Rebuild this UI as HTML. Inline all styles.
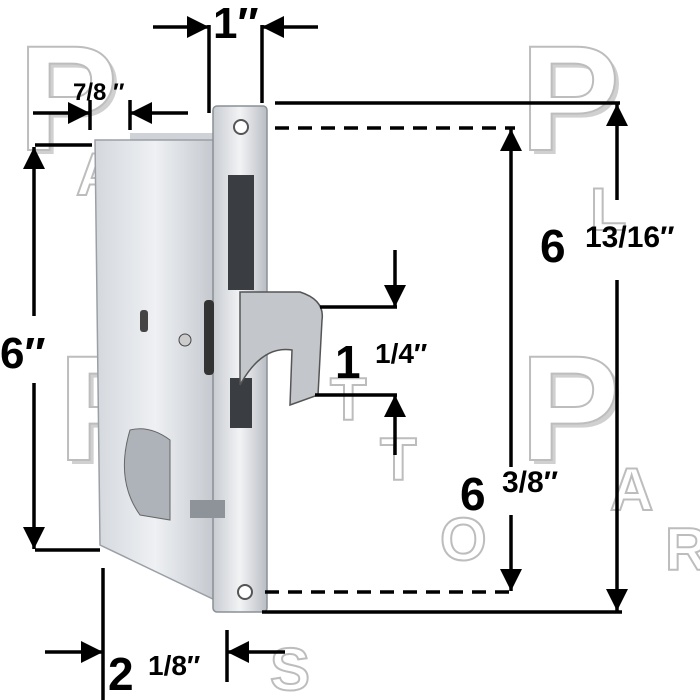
<!DOCTYPE html>
<html><head><meta charset="utf-8"><style>
html,body{margin:0;padding:0;background:#fff;width:700px;height:700px;overflow:hidden}
svg{display:block}
text{font-family:"Liberation Sans",sans-serif;font-weight:bold;}
.sh{fill:#d0d0d0;font-family:"Liberation Sans",sans-serif;font-weight:bold}
.wm{fill:#fff;stroke:#bdbdbd;stroke-width:2;font-family:"Liberation Sans",sans-serif;font-weight:bold}
</style></head><body>
<svg width="700" height="700" viewBox="0 0 700 700" xmlns="http://www.w3.org/2000/svg">
<defs>
<linearGradient id="met" x1="0" x2="1" y1="0" y2="0">
<stop offset="0" stop-color="#d4d8dd"/><stop offset="0.5" stop-color="#eef0f3"/><stop offset="1" stop-color="#c4c8ce"/>
</linearGradient>
<linearGradient id="plate" x1="0" x2="1">
<stop offset="0" stop-color="#c8ccd1"/><stop offset="0.5" stop-color="#f2f3f5"/><stop offset="1" stop-color="#b9bdc3"/>
</linearGradient>
<marker id="ar" viewBox="0 0 10 10" refX="10" refY="5" markerWidth="26" markerHeight="22" markerUnits="userSpaceOnUse" orient="auto-start-reverse">
<path d="M0,0 L10,5 L0,10 Z" fill="#000"/></marker>
</defs>
<!-- watermark -->
<g>
<g class="sh" transform="translate(4,4)">
<text x="18" y="150" font-size="150">P</text>
<text x="520" y="150" font-size="150">P</text>
<text x="520" y="460" font-size="150">P</text>
<text x="58" y="460" font-size="150">P</text>
</g>
<g class="wm">
<text x="18" y="150" font-size="150">P</text>
<text x="520" y="150" font-size="150">P</text>
<text x="520" y="460" font-size="150">P</text>
<text x="58" y="460" font-size="150">P</text>
</g>
<g class="wm">
<text x="76" y="195" font-size="60">A</text>
<text x="590" y="230" font-size="60">L</text>
<text x="610" y="510" font-size="60">A</text>
<text x="665" y="570" font-size="60">R</text>
<text x="330" y="420" font-size="60">T</text>
<text x="380" y="480" font-size="60">T</text>
<text x="440" y="560" font-size="60">O</text>
<text x="270" y="690" font-size="60">S</text>
</g>
</g>
<!-- lock body -->
<rect x="130" y="133" width="90" height="20" fill="#cfd3d8"/>
<path d="M95 140 L215 140 L215 600 L100 545 Z" fill="url(#met)" stroke="#9aa0a6" stroke-width="1.5"/>
<rect x="213" y="106" width="54" height="506" rx="4" fill="url(#plate)" stroke="#8a9096" stroke-width="1.5"/>
<circle cx="241" cy="127" r="7" fill="#fff" stroke="#555" stroke-width="2"/>
<circle cx="245" cy="592" r="7" fill="#fff" stroke="#555" stroke-width="2"/>
<rect x="228" y="175" width="26" height="115" fill="#3a3d42"/>
<rect x="230" y="378" width="22" height="50" fill="#3a3d42"/>
<path d="M240 292 L300 292 Q325 300 322 320 L318 395 L290 405 L292 350 Q262 345 240 385 Z" fill="#c3c7cc" stroke="#555" stroke-width="1.5"/>
<rect x="204" y="300" width="10" height="75" rx="4" fill="#333"/>
<rect x="140" y="310" width="8" height="22" rx="3" fill="#444"/>
<circle cx="185" cy="340" r="6" fill="#ccc" stroke="#444"/>
<path d="M130 430 Q115 480 140 515 L170 520 L170 440 Q150 425 130 430 Z" fill="#aeb3b9" stroke="#666"/>
<rect x="190" y="500" width="35" height="18" fill="#8e9399"/>
<!-- dimensions -->
<g stroke="#000" stroke-width="3.5" fill="none">
<!-- 6" -->
<line x1="35" y1="145" x2="92" y2="145"/><line x1="35" y1="550" x2="100" y2="550"/>
<line x1="34" y1="316" x2="34" y2="147" marker-end="url(#ar)"/>
<line x1="34" y1="383" x2="34" y2="549" marker-end="url(#ar)"/>
<!-- 7/8 -->
<line x1="33" y1="113" x2="90" y2="113" marker-end="url(#ar)"/>
<line x1="188" y1="113" x2="130" y2="113" marker-end="url(#ar)"/>
<line x1="90" y1="100" x2="90" y2="130"/><line x1="130" y1="100" x2="130" y2="130"/>
<!-- 1" -->
<line x1="209" y1="25" x2="209" y2="113"/><line x1="262" y1="25" x2="262" y2="103"/>
<line x1="153" y1="27" x2="209" y2="27" marker-end="url(#ar)"/>
<line x1="318" y1="27" x2="262" y2="27" marker-end="url(#ar)"/>
<!-- 6 13/16 -->
<line x1="275" y1="103" x2="620" y2="103"/><line x1="262" y1="612" x2="622" y2="612"/>
<line x1="617" y1="200" x2="617" y2="104" marker-end="url(#ar)"/>
<line x1="617" y1="280" x2="617" y2="611" marker-end="url(#ar)"/>
<!-- 6 3/8 -->
<line x1="275" y1="128" x2="515" y2="128" stroke-dasharray="14 9"/>
<line x1="265" y1="592" x2="515" y2="592" stroke-dasharray="14 9"/>
<line x1="511" y1="467" x2="511" y2="129" marker-end="url(#ar)"/>
<line x1="511" y1="515" x2="511" y2="591" marker-end="url(#ar)"/>
<!-- 1 1/4 -->
<line x1="320" y1="307" x2="397" y2="307"/><line x1="315" y1="395" x2="397" y2="395"/>
<line x1="395" y1="250" x2="395" y2="307" marker-end="url(#ar)"/>
<line x1="395" y1="455" x2="395" y2="395" marker-end="url(#ar)"/>
<!-- 2 1/8 -->
<line x1="103" y1="568" x2="103" y2="700"/><line x1="227" y1="630" x2="227" y2="682"/>
<line x1="45" y1="652" x2="103" y2="652" marker-end="url(#ar)"/>
<line x1="285" y1="652" x2="227" y2="652" marker-end="url(#ar)"/>
</g>
<text x="213" y="38" font-size="44">1″</text>
<text x="73" y="100" font-size="24">7/8 ″</text>
<text x="0" y="368" font-size="44">6″</text>
<text x="540" y="262" font-size="46">6</text>
<text x="585" y="247" font-size="30">13/16″</text>
<text x="460" y="510" font-size="46">6</text>
<text x="502" y="492" font-size="30">3/8″</text>
<text x="335" y="378" font-size="46">1</text>
<text x="375" y="363" font-size="28">1/4″</text>
<text x="108" y="690" font-size="46">2</text>
<text x="148" y="675" font-size="28">1/8″</text>
</svg>
</body></html>
